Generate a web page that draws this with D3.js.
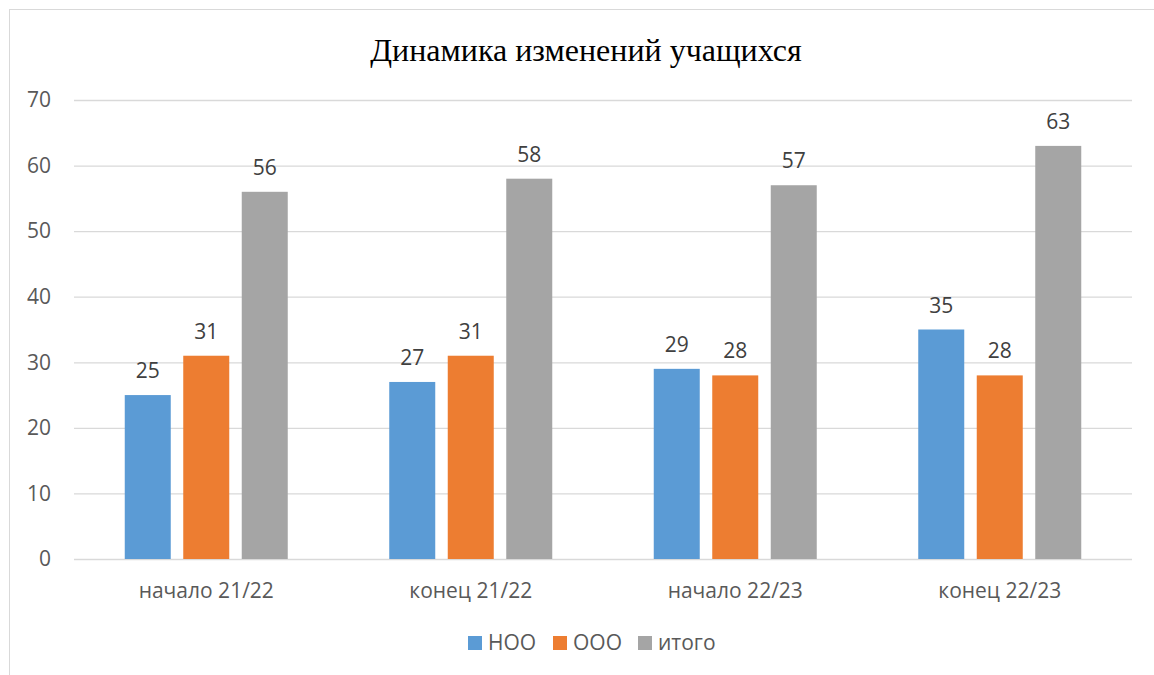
<!DOCTYPE html>
<html>
<head>
<meta charset="utf-8">
<script src="https://cdn.jsdelivr.net/npm/d3@7"></script>
<style>
  body { margin: 0; background: #fff; }
  svg { display: block; }
</style>
</head>
<body>
<script>
'use strict';

var categories = ["начало 21/22", "конец 21/22", "начало 22/23", "конец 22/23"];
var series = ["НОО", "ООО", "итого"];
var nooValues = [25, 27, 29, 35];
var oooValues = [31, 31, 28, 28];
var totalValues = [56, 58, 57, 63];
var yTicks = [0, 10, 20, 30, 40, 50, 60, 70];
var colors = ["#5B9BD5", "#ED7D31", "#A5A5A5"];

var width = 1154;
var height = 675;
var labelFont = "'Open Sans', 'Noto Sans', sans-serif";

var svg = d3.select("body").append("svg")
    .attr("width", width)
    .attr("height", height);

// chart frame (right and bottom edges fall outside the picture)
svg.append("rect")
    .attr("x", 9.5)
    .attr("y", 9.5)
    .attr("width", 1160)
    .attr("height", 680)
    .attr("fill", "#fff")
    .attr("stroke", "#d9d9d9");

svg.append("text")
    .attr("x", 586)
    .attr("y", 61)
    .attr("text-anchor", "middle")
    .style("font-family", "'Liberation Serif', 'Times New Roman', serif")
    .style("font-size", "32px")
    .attr("fill", "#000")
    .text("Динамика изменений учащихся");

var x = d3.scaleBand()
    .domain(categories)
    .range([74, 1132]);

var xs = d3.scaleBand()
    .domain(series)
    .range([-81.5, 81.5])
    .paddingInner(0.2137);

var y = d3.scaleLinear()
    .domain([0, 70])
    .range([559, 100]);

// gridlines + y labels
var yAxis = d3.axisLeft(y)
    .tickValues(yTicks)
    .tickSize(-(1132 - 74))
    .tickPadding(23);

var yAxisGroup = svg.append("g")
    .attr("transform", "translate(74,0)")
    .call(yAxis);

yAxisGroup.select(".domain").remove();
yAxisGroup.selectAll(".tick line")
    .attr("stroke", "#d9d9d9")
    .attr("stroke-width", 1.3);
yAxisGroup.selectAll(".tick text")
    .attr("fill", "#595959")
    .style("font-family", labelFont)
    .style("font-size", "21px");

var table = categories.map(function (c, i) {
    return { category: c, values: [nooValues[i], oooValues[i], totalValues[i]] };
});

var groups = svg.selectAll(".group")
    .data(table)
    .enter().append("g")
    .attr("class", "group")
    .attr("transform", function (d) {
        return "translate(" + (x(d.category) + x.bandwidth() / 2) + ",0)";
    });

groups.selectAll("rect")
    .data(function (d) { return d.values.map(function (v, j) { return { s: series[j], v: v, j: j }; }); })
    .enter().append("rect")
    .attr("x", function (d) { return xs(d.s); })
    .attr("y", function (d) { return y(d.v); })
    .attr("width", xs.bandwidth())
    .attr("height", function (d) { return y(0) - y(d.v); })
    .attr("fill", function (d) { return colors[d.j]; });

groups.selectAll(".val")
    .data(function (d) { return d.values.map(function (v, j) { return { s: series[j], v: v }; }); })
    .enter().append("text")
    .attr("class", "val")
    .attr("x", function (d) { return xs(d.s) + xs.bandwidth() / 2; })
    .attr("y", function (d) { return y(d.v) - 17; })
    .attr("text-anchor", "middle")
    .attr("fill", "#404040")
    .style("font-family", labelFont)
    .style("font-size", "21px")
    .text(function (d) { return d.v; });

// x axis labels
var xAxis = d3.axisBottom(x).tickSize(0).tickPadding(24);
var xAxisGroup = svg.append("g")
    .attr("transform", "translate(0,559)")
    .call(xAxis);
xAxisGroup.select(".domain").remove();
xAxisGroup.selectAll(".tick text")
    .attr("fill", "#595959")
    .style("font-family", labelFont)
    .style("font-size", "21px");

// legend
var legendX = [468, 553, 638];
var legend = svg.selectAll(".legend")
    .data(series)
    .enter().append("g")
    .attr("class", "legend")
    .attr("transform", function (d, i) { return "translate(" + legendX[i] + ",643)"; });

legend.append("rect")
    .attr("x", 0)
    .attr("y", -7)
    .attr("width", 14)
    .attr("height", 14)
    .attr("fill", function (d, i) { return colors[i]; });

legend.append("text")
    .attr("x", 20)
    .attr("y", 0)
    .attr("dy", "0.35em")
    .attr("fill", "#595959")
    .style("font-family", labelFont)
    .style("font-size", "21px")
    .text(function (d) { return d; });
</script>
</body>
</html>
